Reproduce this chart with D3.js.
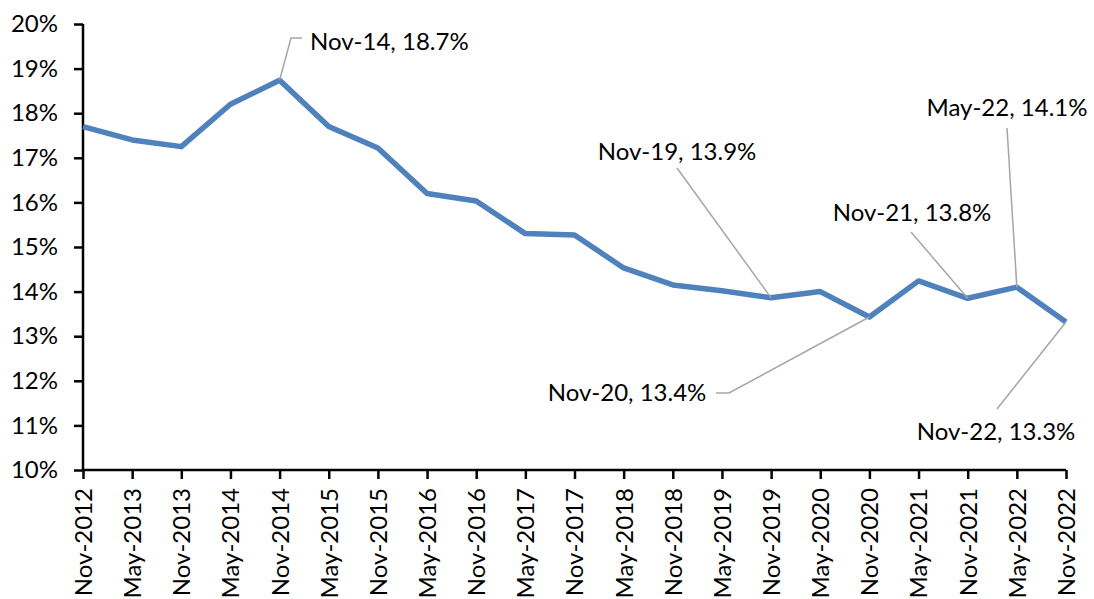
<!DOCTYPE html>
<html><head><meta charset="utf-8">
<script src="https://cdn.jsdelivr.net/npm/d3@7"></script>
<style>body{margin:0;background:#fff}svg{display:block}text{font-family:Lato,"Open Sans",sans-serif;fill:#000}</style>
</head><body>
<script>
const categories = ["Nov-2012","May-2013","Nov-2013","May-2014","Nov-2014","May-2015","Nov-2015","May-2016","Nov-2016","May-2017","Nov-2017","May-2018","Nov-2018","May-2019","Nov-2019","May-2020","Nov-2020","May-2021","Nov-2021","May-2022","Nov-2022"];
const values = [17.7,17.4,17.25,18.2,18.74,17.7,17.22,16.2,16.03,15.3,15.27,14.53,14.15,14.02,13.86,14.0,13.43,14.24,13.85,14.1,13.32];
const yTicks = [10,11,12,13,14,15,16,17,18,19,20];
const annotations = [
  {cat:"Nov-2014", text:"Nov-14, 18.7%"},
  {cat:"Nov-2019", text:"Nov-19, 13.9%"},
  {cat:"Nov-2020", text:"Nov-20, 13.4%"},
  {cat:"Nov-2021", text:"Nov-21, 13.8%"},
  {cat:"May-2022", text:"May-22, 14.1%"},
  {cat:"Nov-2022", text:"Nov-22, 13.3%"}
];
// label placement (pixel offsets) kept separate from data
const labelPos = {
  "Nov-2014":{tx:310,ty:42,anchor:"start",path:(p)=>[[p[0],p[1]],[291,38],[302,38]]},
  "Nov-2019":{tx:677,ty:152,anchor:"middle",path:(p)=>[[677,168],[p[0],p[1]]]},
  "Nov-2020":{tx:627,ty:393,anchor:"middle",path:(p)=>[[716,393],[729,393],[p[0],p[1]]]},
  "Nov-2021":{tx:912,ty:213,anchor:"middle",path:(p)=>[[911,232],[p[0],p[1]]]},
  "May-2022":{tx:1007,ty:108,anchor:"middle",path:(p)=>[[1007,128],[p[0],p[1]]]},
  "Nov-2022":{tx:996,ty:432,anchor:"middle",path:(p)=>[[997,409],[p[0],p[1]]]}
};
const W=1094,H=599;
const svg=d3.select("body").append("svg").attr("width",W).attr("height",H);
const x=d3.scalePoint().domain(categories).range([83,1066]);
const y=d3.scaleLinear().domain([10,20]).range([470,24]);
const fs=24;
const yAxis=svg.append("g").attr("transform","translate(83,0)")
  .call(d3.axisLeft(y).tickValues(yTicks).tickFormat(d=>d+"%").tickSize(9).tickPadding(16));
const xAxis=svg.append("g").attr("transform","translate(0,470)")
  .call(d3.axisBottom(x).tickSize(9).tickPadding(0));
[yAxis,xAxis].forEach(g=>{
  g.select(".domain").attr("stroke","#000").attr("stroke-width",2.5);
  g.selectAll(".tick line").attr("stroke","#000").attr("stroke-width",2.5);
  g.selectAll("text").attr("font-size",fs).attr("font-family","Lato, 'Open Sans', sans-serif").attr("fill","#000");
});
yAxis.select(".domain").attr("d","M0,24V470");
xAxis.select(".domain").attr("d","M83,0H1066");
xAxis.selectAll(".tick text").attr("transform","rotate(-90)").attr("text-anchor","end")
  .attr("x",-18).attr("y",0).attr("dy","0.35em");
const line=d3.line().x((d,i)=>x(categories[i])).y(d=>y(d));
svg.append("path").datum(values).attr("d",line).attr("fill","none")
  .attr("stroke","#4F81BD").attr("stroke-width",5.5).attr("stroke-linejoin","round");
annotations.forEach(a=>{
  const i=categories.indexOf(a.cat);
  const p=[x(a.cat),y(values[i])];
  const lp=labelPos[a.cat];
  svg.append("path").attr("d",d3.line()(lp.path(p))).attr("fill","none")
    .attr("stroke","#A6A6A6").attr("stroke-width",1.5);
  svg.append("text").attr("x",lp.tx).attr("y",lp.ty).attr("dy","0.35em")
    .attr("text-anchor",lp.anchor).attr("font-size",fs).text(a.text);
});
</script>
</body></html>
